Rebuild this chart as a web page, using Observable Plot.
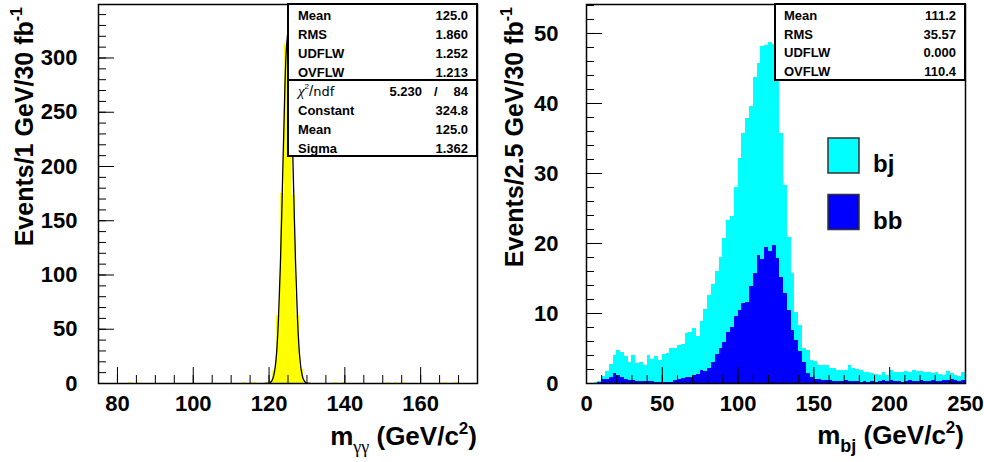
<!DOCTYPE html>
<html><head><meta charset="utf-8">
<script src="https://cdn.jsdelivr.net/npm/d3@7"></script>
<script src="https://cdn.jsdelivr.net/npm/@observablehq/plot@0.6"></script>
<style>
html,body{margin:0;padding:0;background:#fff;}
#wrap{position:relative;width:984px;height:462px;overflow:hidden;background:#fff;}
#wrap svg{position:absolute;top:0;}
</style></head><body><div id="wrap"></div>
<script>
// ---------- Left panel: m_gammagamma, 1 GeV bins from 75 to 175 ----------
const gammaStart = 75;
const gammaBinWidth = 1;
const gammaCounts = [
  0, 0, 0, 0, 0, 0, 0, 0, 0.7, 0,        // 75-84
  0.8, 0, 0, 0, 0, 0, 0, 0, 0, 0,        // 85-94
  0, 0, 0, 0, 0, 0, 0, 0, 0, 0,          // 95-104
  0, 0, 0, 0, 0, 0, 0, 0, 0.7, 0,        // 105-114
  0.8, 0.7, 0, 0, 0.8, 1.5, 12, 63, 175, 312, // 115-124
  308, 173, 63, 13, 1.6, 0.7, 0, 0, 0, 0, // 125-134
  0, 0, 0.8, 0, 0.7, 0, 0, 0, 0, 0,      // 135-144
  0, 0, 0, 0, 0, 0, 0.8, 0, 0.7, 0,      // 145-154
  0.8, 0, 0, 0, 0, 0, 0, 0, 0, 0,        // 155-164
  0, 0.7, 0, 0, 0.8, 0, 0, 0, 0, 0       // 165-174
];
// Gaussian fit curve
const fitX = [119, 119.5, 120, 120.5, 121, 121.5, 122, 122.5, 123, 123.5, 124, 124.5, 125,
              125.5, 126, 126.5, 127, 127.5, 128, 128.5, 129, 129.5, 130, 130.5, 131];
const fitY = [0.03, 0.1, 0.4, 1.4, 4.4, 12.0, 28.6, 60.3, 110.5, 177.1, 248, 303.6, 324.8,
              303.6, 248, 177.1, 110.5, 60.3, 28.6, 12.0, 4.4, 1.4, 0.4, 0.1, 0.03];
const gammaXTicks = [80, 100, 120, 140, 160];
const gammaXMinor = [75, 80, 85, 90, 95, 100, 105, 110, 115, 120, 125, 130, 135, 140, 145, 150, 155, 160, 165, 170, 175];
const gammaYTicks = [0, 50, 100, 150, 200, 250, 300];
const gammaYMinor = [0,10,20,30,40,50,60,70,80,90,100,110,120,130,140,150,160,170,180,190,200,210,220,230,240,250,260,270,280,290,300,310,320,330,340];
const gammaStatLabels = ["Mean", "RMS", "UDFLW", "OVFLW"];
const gammaStatValues = ["125.0", "1.860", "1.252", "1.213"];
const gammaFitLabels = ["Constant", "Mean", "Sigma"];
const gammaFitValues = ["324.8", "125.0", "1.362"];
const gammaChi2 = ["5.230", "84"];

// ---------- Right panel: m_bj, 2.5 GeV bins from 0 to 250 ----------
const bjStart = 0;
const bjBinWidth = 2.5;
const bjCounts = [
  0, 0, 0.1, 0.3, 1.0, 1.7, 2.7, 4.0, 4.7, 4.4,
  3.8, 3.0, 4.0, 2.8, 3.0, 2.6, 4.0, 3.4, 3.9, 3.3,
  4.2, 4.3, 5.0, 5.0, 5.4, 5.5, 7.2, 7.3, 7.8, 6.7,
  8.9, 10.5, 12.6, 14.1, 16.0, 18.0, 20.7, 23.3, 23.8, 28.0,
  32.1, 35.7, 37.9, 39.6, 43.7, 45.7, 48.1, 48.3, 48.7, 48.4,
  44.0, 35.7, 28.3, 20.9, 15.7, 10.2, 8.3, 5.0, 4.7, 3.3,
  3.1, 2.6, 2.6, 2.5, 2.1, 2.2, 1.9, 1.8, 1.9, 2.5,
  2.2, 2.0, 1.9, 1.5, 1.6, 1.4, 1.3, 1.2, 1.6, 1.2,
  1.8, 1.6, 1.5, 1.5, 1.7, 1.6, 1.8, 1.7, 1.7, 1.6,
  1.5, 1.4, 1.5, 1.3, 1.2, 1.7, 1.4, 1.2, 1.0, 1.6
];
const bbCounts = [
  0, 0, 0, 0.2, 0.6, 0.6, 0.9, 1.4, 1.1, 0.9,
  0.5, 0.4, 0.4, 0.3, 0.3, 0.3, 0.3, 0.3, 0.2, 0.2,
  0.1, 0.1, 0.2, 0.4, 0.6, 0.7, 0.9, 0.9, 1.2, 1.3,
  1.9, 1.7, 2.2, 3.0, 4.2, 5.0, 5.9, 7.3, 8.0, 9.5,
  10.4, 11.4, 11.6, 13.9, 15.7, 18.3, 17.7, 19.4, 18.8, 19.7,
  17.8, 15.2, 12.8, 10.4, 7.6, 6.1, 4.5, 3.0, 1.4, 0.8,
  0.6, 0.5, 0.4, 0.4, 0.4, 0.3, 0.3, 0.3, 0.4, 0.3,
  0.3, 0.3, 0.2, 0.3, 0.2, 0.3, 0.2, 0.3, 0.4, 0.3,
  0.4, 0.3, 0.3, 0.2, 0.3, 0.4, 0.3, 0.3, 0.4, 0.3,
  0.3, 0.4, 0.3, 0.3, 0.4, 0.4, 0.5, 0.4, 0.3, 0.4
];
const bjXTicks = [0, 50, 100, 150, 200, 250];
const bjXMinor = [0,10,20,30,40,50,60,70,80,90,100,110,120,130,140,150,160,170,180,190,200,210,220,230,240,250];
const bjYTicks = [0, 10, 20, 30, 40, 50];
const bjYMinor = [0,2,4,6,8,10,12,14,16,18,20,22,24,26,28,30,32,34,36,38,40,42,44,46,48,50,52,54];
const bjStatLabels = ["Mean", "RMS", "UDFLW", "OVFLW"];
const bjStatValues = ["111.2", "35.57", "0.000", "110.4"];
const legendLabels = ["bj", "bb"];
const legendColors = ["#00ffff", "#0000ff"];

const FONT = "'Liberation Sans', Arial, Helvetica, sans-serif";
const SERIF = "'Liberation Serif', 'DejaVu Serif', serif";
const wrap = document.getElementById("wrap");

function bins(start, w, counts) {
  return counts.map((v, i) => ({lo: start + i * w, hi: start + (i + 1) * w, v}));
}

// tick length in data units from pixel length
function tickMarks(xDom, yDom, dims, majX, minX, majY, minY) {
  const {W, H} = dims;
  const sx = (xDom[1] - xDom[0]) / W, sy = (yDom[1] - yDom[0]) / H;
  const maj = 16, min = 8;
  return [
    Plot.ruleX(minX, {y1: yDom[0], y2: yDom[0] + min * sy, stroke: "black", strokeWidth: 1}),
    Plot.ruleX(majX, {y1: yDom[0], y2: yDom[0] + maj * sy, stroke: "black", strokeWidth: 1}),
    Plot.ruleY(minY, {x1: xDom[0], x2: xDom[0] + min * sx, stroke: "black", strokeWidth: 1}),
    Plot.ruleY(majY, {x1: xDom[0], x2: xDom[0] + maj * sx, stroke: "black", strokeWidth: 1})
  ];
}

const STYLE = `font-family:${FONT};font-size:22px;font-weight:bold;overflow:visible;background:transparent;`;

// ----- Left plot -----
const L = {width: 492, height: 462, ml: 98, mr: 15, mt: 4, mb: 79};
const LxDom = [75, 175], LyDom = [0, 349.3];
const fitData = fitX.map((x, i) => ({x, y: fitY[i]}));
const leftSvg = Plot.plot({
  width: L.width, height: L.height,
  marginLeft: L.ml, marginRight: L.mr, marginTop: L.mt, marginBottom: L.mb,
  x: {domain: LxDom}, y: {domain: LyDom},
  style: STYLE,
  marks: [
    Plot.rect(bins(gammaStart, gammaBinWidth, gammaCounts), {x1: "lo", x2: "hi", y1: 0, y2: "v", fill: "#ffff00", shapeRendering: "crispEdges"}),
    Plot.line(fitData, {x: "x", y: "y", stroke: "black", strokeWidth: 1.3, curve: "catmull-rom"}),
    ...tickMarks(LxDom, LyDom, {W: L.width - L.ml - L.mr, H: L.height - L.mt - L.mb}, gammaXTicks, gammaXMinor, gammaYTicks, gammaYMinor),
    Plot.axisX({ticks: gammaXTicks, tickSize: 0, tickPadding: 12, label: null}),
    Plot.axisY({ticks: gammaYTicks, tickSize: 0, tickPadding: 21, label: null}),
    Plot.frame({stroke: "black", strokeWidth: 1.5})
  ]
});
leftSvg.style.left = "0px";
wrap.appendChild(leftSvg);

// ----- Right plot -----
const R = {width: 492, height: 462, ml: 94, mr: 19, mt: 4, mb: 79};
const RxDom = [0, 250], RyDom = [0, 54.14];
const rightSvg = Plot.plot({
  width: R.width, height: R.height,
  marginLeft: R.ml, marginRight: R.mr, marginTop: R.mt, marginBottom: R.mb,
  x: {domain: RxDom}, y: {domain: RyDom},
  style: STYLE,
  marks: [
    Plot.rect(bins(bjStart, bjBinWidth, bjCounts), {x1: "lo", x2: "hi", y1: 0, y2: "v", fill: legendColors[0], shapeRendering: "crispEdges"}),
    Plot.rect(bins(bjStart, bjBinWidth, bbCounts), {x1: "lo", x2: "hi", y1: 0, y2: "v", fill: legendColors[1], shapeRendering: "crispEdges"}),
    ...tickMarks(RxDom, RyDom, {W: R.width - R.ml - R.mr, H: R.height - R.mt - R.mb}, bjXTicks, bjXMinor, bjYTicks, bjYMinor),
    Plot.axisX({ticks: bjXTicks, tickSize: 0, tickPadding: 12, label: null}),
    Plot.axisY({ticks: bjYTicks, tickSize: 0, tickPadding: 28, label: null}),
    Plot.frame({stroke: "black", strokeWidth: 1.5})
  ]
});
rightSvg.style.left = "492px";
wrap.appendChild(rightSvg);

// ----- Decorations: stats boxes, titles, legend -----
function group(svg, size) {
  return d3.select(svg).append("g").attr("font-family", FONT).attr("font-size", size)
    .attr("font-weight", "bold").attr("text-anchor", "start");
}

// Left stats box (stats + fit)
(function () {
  const x0 = 288, x1 = L.width - L.mr, y0 = L.mt, rowH = 19;
  const g = group(leftSvg, 13);
  g.append("rect").attr("x", x0).attr("y", y0).attr("width", x1 - x0).attr("height", 152)
    .attr("fill", "white").attr("stroke", "black").attr("stroke-width", 2);
  g.append("line").attr("x1", x0).attr("x2", x1).attr("y1", 80).attr("y2", 80).attr("stroke", "black").attr("stroke-width", 2);
  gammaStatLabels.forEach((t, i) => {
    g.append("text").attr("x", x0 + 10).attr("y", 20 + i * rowH).text(t);
    g.append("text").attr("x", x1 - 9).attr("y", 20 + i * rowH).attr("text-anchor", "end").text(gammaStatValues[i]);
  });
  const chi = g.append("text").attr("x", x0 + 10).attr("y", 96).attr("font-weight", "normal");
  chi.append("tspan").attr("font-family", SERIF).attr("font-style", "italic").attr("font-size", 15).text("χ");
  chi.append("tspan").attr("font-size", 8).attr("dy", -7).text("2");
  chi.append("tspan").attr("font-size", 15).attr("dy", 7).text("/");
  chi.append("tspan").attr("font-size", 13).attr("font-family", "'DejaVu Sans', sans-serif").text("ndf");
  g.append("text").attr("x", 422).attr("y", 96).attr("text-anchor", "end").text(gammaChi2[0]);
  g.append("text").attr("x", 434).attr("y", 96).text("/");
  g.append("text").attr("x", x1 - 9).attr("y", 96).attr("text-anchor", "end").text(gammaChi2[1]);
  gammaFitLabels.forEach((t, i) => {
    g.append("text").attr("x", x0 + 10).attr("y", 115 + i * rowH).text(t);
    g.append("text").attr("x", x1 - 9).attr("y", 115 + i * rowH).attr("text-anchor", "end").text(gammaFitValues[i]);
  });
})();

// Right stats box and legend
(function () {
  const x0 = 775 - 492, x1 = R.width - R.mr, y0 = R.mt, rowH = 18.5;
  const g = group(rightSvg, 13);
  g.append("rect").attr("x", x0).attr("y", y0).attr("width", x1 - x0).attr("height", 76)
    .attr("fill", "white").attr("stroke", "black").attr("stroke-width", 2);
  bjStatLabels.forEach((t, i) => {
    g.append("text").attr("x", x0 + 9).attr("y", 20 + i * rowH).text(t);
    g.append("text").attr("x", x1 - 9).attr("y", 20 + i * rowH).attr("text-anchor", "end").text(bjStatValues[i]);
  });
  const lg = group(rightSvg, 24);
  legendLabels.forEach((t, i) => {
    const y = 138 + i * 56.5;
    lg.append("rect").attr("x", 828 - 492).attr("y", y).attr("width", 31).attr("height", 35)
      .attr("fill", legendColors[i]).attr("stroke", "#333").attr("stroke-width", 1.5);
    lg.append("text").attr("x", 873 - 492).attr("y", y + 34).text(t);
  });
})();

// Axis titles
function yTitle(svg, x, y, main, sup) {
  const t = d3.select(svg).append("text").attr("transform", `translate(${x},${y}) rotate(-90)`)
    .attr("text-anchor", "end").attr("font-family", FONT).attr("font-weight", "bold").attr("font-size", 25);
  t.append("tspan").text(main);
  t.append("tspan").attr("font-size", 16).attr("dy", -11).text(sup);
}
function xTitle(svg, x, y, sub, greek) {
  const t = d3.select(svg).append("text").attr("x", x).attr("y", y)
    .attr("text-anchor", "end").attr("font-family", FONT).attr("font-weight", "bold").attr("font-size", 26);
  t.append("tspan").text("m");
  const s = t.append("tspan").attr("font-size", 18).attr("dy", 8).text(sub);
  if (greek) s.attr("font-family", SERIF).attr("font-weight", "normal");
  t.append("tspan").attr("dy", -8).text(" (GeV/c");
  t.append("tspan").attr("font-size", 17).attr("dy", -11).text("2");
  t.append("tspan").attr("dy", 11).text(")");
}
yTitle(leftSvg, 33, 7, "Events/1 GeV/30 fb", "-1");
yTitle(rightSvg, 523 - 492, 7, "Events/2.5 GeV/30 fb", "-1");
xTitle(leftSvg, L.width - L.mr, 445, "γγ", true);
xTitle(rightSvg, R.width - R.mr - 1, 444, "bj", false);
</script></body></html>
